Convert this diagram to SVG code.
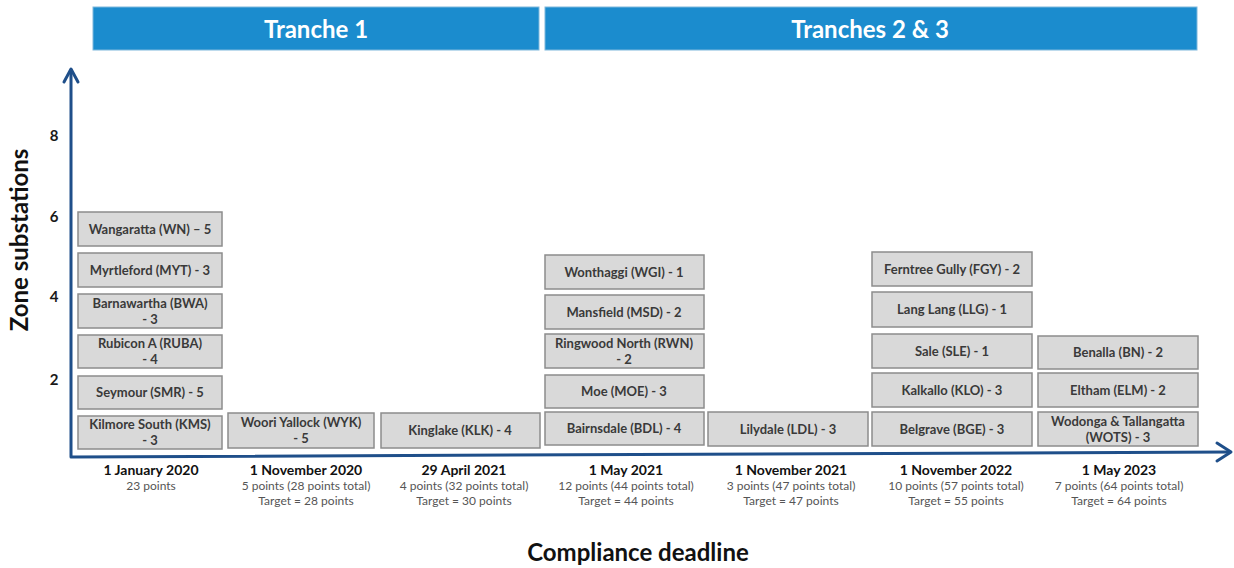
<svg xmlns="http://www.w3.org/2000/svg" width="1234" height="568" viewBox="0 0 1234 568">
<style>
  .bar { fill: #1b8cce; stroke: #7fb8dc; stroke-width: 1; }
  .bartxt { font-family: Lato, "Liberation Sans", sans-serif; font-weight: bold; font-size: 24px; fill: #ffffff; text-anchor: middle; }
  .box { fill: #d9d9d9; stroke: #8c8c8c; stroke-width: 1.5; }
  .bt { font-family: Lato, "Liberation Sans", sans-serif; font-weight: bold; font-size: 13px; fill: #3a3a3a; text-anchor: middle; }
  .axis { fill: none; stroke: #1f4f8a; stroke-width: 3; stroke-linecap: round; stroke-linejoin: round; }
  .ylab { font-family: Lato, "Liberation Sans", sans-serif; font-weight: bold; font-size: 15px; fill: #1a1a1a; text-anchor: middle; }
  .atitle { font-family: Lato, "Liberation Sans", sans-serif; font-weight: bold; font-size: 24px; fill: #111111; text-anchor: middle; }
  .dt { font-family: Lato, "Liberation Sans", sans-serif; font-weight: bold; font-size: 14px; fill: #111111; text-anchor: middle; }
  .ds { font-family: Lato, "Liberation Sans", sans-serif; font-size: 12px; fill: #555555; text-anchor: middle; }
</style>
<rect width="1234" height="568" fill="#ffffff"/>

<g id="tranche1">
  <rect class="bar" x="93" y="7" width="446" height="43"/>
  <text class="bartxt" x="316" y="38">Tranche 1</text>
</g>
<g id="tranche23">
  <rect class="bar" x="545" y="7" width="652" height="43"/>
  <text class="bartxt" x="870" y="38">Tranches 2 &amp; 3</text>
</g>

<g id="axes">
  <polyline class="axis" points="71,70 71,457 1230,452"/>
  <polyline class="axis" points="64,82 71,69 78,82"/>
  <polyline class="axis" points="1217,443 1231,452 1217,461"/>
</g>

<g id="y-labels">
  <text class="ylab" x="54" y="141">8</text>
  <text class="ylab" x="54" y="222">6</text>
  <text class="ylab" x="54" y="302">4</text>
  <text class="ylab" x="54" y="385">2</text>
  <text class="atitle" transform="translate(28,240) rotate(-90)">Zone substations</text>
</g>

<g id="col1">
  <g id="wn"><rect class="box" x="78" y="212" width="144" height="34"/><text class="bt" x="150" y="233.5">Wangaratta (WN) – 5</text></g>
  <g id="myt"><rect class="box" x="78" y="253" width="144" height="34"/><text class="bt" x="150" y="274.5">Myrtleford (MYT) - 3</text></g>
  <g id="bwa"><rect class="box" x="78" y="294" width="144" height="34"/><text class="bt" x="150" y="307.5">Barnawartha (BWA)</text><text class="bt" x="150" y="323.5">- 3</text></g>
  <g id="ruba"><rect class="box" x="78" y="335" width="144" height="33"/><text class="bt" x="150" y="348">Rubicon A (RUBA)</text><text class="bt" x="150" y="364">- 4</text></g>
  <g id="smr"><rect class="box" x="78" y="376" width="144" height="33"/><text class="bt" x="150" y="397">Seymour (SMR) - 5</text></g>
  <g id="kms"><rect class="box" x="78" y="416" width="144" height="33"/><text class="bt" x="150" y="429">Kilmore South (KMS)</text><text class="bt" x="150" y="445">- 3</text></g>
</g>

<g id="col2">
  <g id="wyk"><rect class="box" x="228" y="413" width="146" height="35"/><text class="bt" x="301" y="426.5">Woori Yallock (WYK)</text><text class="bt" x="301" y="442.5">- 5</text></g>
</g>
<g id="col3">
  <g id="klk"><rect class="box" x="381" y="413" width="159" height="35"/><text class="bt" x="460" y="435">Kinglake (KLK) - 4</text></g>
</g>

<g id="col4">
  <g id="wgi"><rect class="box" x="545" y="255" width="159" height="34"/><text class="bt" x="624" y="276.5">Wonthaggi (WGI) - 1</text></g>
  <g id="msd"><rect class="box" x="545" y="295" width="159" height="34"/><text class="bt" x="624" y="316.5">Mansfield (MSD) - 2</text></g>
  <g id="rwn"><rect class="box" x="545" y="334" width="159" height="34"/><text class="bt" x="624" y="347.5">Ringwood North (RWN)</text><text class="bt" x="624" y="363.5">- 2</text></g>
  <g id="moe"><rect class="box" x="545" y="375" width="159" height="33"/><text class="bt" x="624" y="396">Moe (MOE) - 3</text></g>
  <g id="bdl"><rect class="box" x="545" y="412" width="159" height="33"/><text class="bt" x="624" y="433">Bairnsdale (BDL) - 4</text></g>
</g>
<g id="col5">
  <g id="ldl"><rect class="box" x="708" y="412" width="160" height="34"/><text class="bt" x="788" y="433.5">Lilydale (LDL) - 3</text></g>
</g>

<g id="col6">
  <g id="fgy"><rect class="box" x="872" y="252" width="160" height="34"/><text class="bt" x="952" y="273.5">Ferntree Gully (FGY) - 2</text></g>
  <g id="llg"><rect class="box" x="872" y="292" width="160" height="35"/><text class="bt" x="952" y="314">Lang Lang (LLG) - 1</text></g>
  <g id="sle"><rect class="box" x="872" y="334" width="160" height="34"/><text class="bt" x="952" y="355.5">Sale (SLE) - 1</text></g>
  <g id="klo"><rect class="box" x="872" y="373" width="160" height="34"/><text class="bt" x="952" y="394.5">Kalkallo (KLO) - 3</text></g>
  <g id="bge"><rect class="box" x="872" y="412" width="160" height="34"/><text class="bt" x="952" y="433.5">Belgrave (BGE) - 3</text></g>
</g>

<g id="col7">
  <g id="bn"><rect class="box" x="1038" y="336" width="160" height="33"/><text class="bt" x="1118" y="357">Benalla (BN) - 2</text></g>
  <g id="elm"><rect class="box" x="1038" y="373" width="160" height="34"/><text class="bt" x="1118" y="394.5">Eltham (ELM) - 2</text></g>
  <g id="wots"><rect class="box" x="1038" y="412" width="160" height="34"/><text class="bt" x="1118" y="425.5">Wodonga &amp; Tallangatta</text><text class="bt" x="1118" y="441.5">(WOTS) - 3</text></g>
</g>

<g id="deadlines">
  <g id="d1"><text class="dt" x="151" y="475">1 January 2020</text><text class="ds" x="151" y="490">23 points</text></g>
  <g id="d2"><text class="dt" x="306" y="475">1 November 2020</text><text class="ds" x="306" y="490">5 points (28 points total)</text><text class="ds" x="306" y="505">Target = 28 points</text></g>
  <g id="d3"><text class="dt" x="464" y="475">29 April 2021</text><text class="ds" x="464" y="490">4 points (32 points total)</text><text class="ds" x="464" y="505">Target = 30 points</text></g>
  <g id="d4"><text class="dt" x="626" y="475">1 May 2021</text><text class="ds" x="626" y="490">12 points (44 points total)</text><text class="ds" x="626" y="505">Target = 44 points</text></g>
  <g id="d5"><text class="dt" x="791" y="475">1 November 2021</text><text class="ds" x="791" y="490">3 points (47 points total)</text><text class="ds" x="791" y="505">Target = 47 points</text></g>
  <g id="d6"><text class="dt" x="956" y="475">1 November 2022</text><text class="ds" x="956" y="490">10 points (57 points total)</text><text class="ds" x="956" y="505">Target = 55 points</text></g>
  <g id="d7"><text class="dt" x="1119" y="475">1 May 2023</text><text class="ds" x="1119" y="490">7 points (64 points total)</text><text class="ds" x="1119" y="505">Target = 64 points</text></g>
</g>

<g id="x-title">
  <text class="atitle" x="638" y="561" font-size="23">Compliance deadline</text>
</g>
</svg>
